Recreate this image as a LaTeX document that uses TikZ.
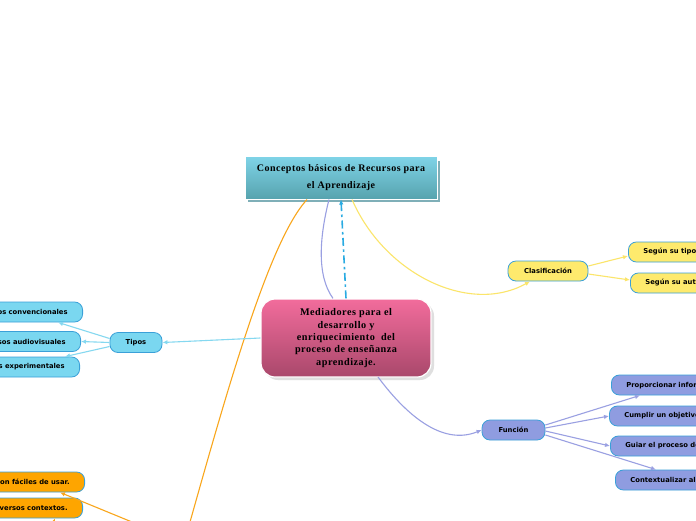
\documentclass[tikz,border=0pt]{standalone}
\usepackage{fontspec}
\setmainfont{Liberation Serif}
\newfontfamily\boxfont{DejaVu Sans}
\newfontfamily\titlefont[LetterSpace=5]{Liberation Serif}
\usetikzlibrary{arrows.meta,shadings}
\definecolor{nblue}{HTML}{7AD7F0}
\definecolor{nborder}{HTML}{3AA0D8}
\definecolor{nyellow}{HTML}{FEEA6D}
\definecolor{nlav}{HTML}{8F9CE0}
\definecolor{norange}{HTML}{FEA500}
\definecolor{lblue}{HTML}{85D8F0}
\definecolor{lyellow}{HTML}{FBE56A}
\definecolor{llav}{HTML}{9AA0E2}
\definecolor{lorange}{HTML}{F9A61C}
\definecolor{ldash}{HTML}{2AABE2}
\definecolor{tealtop}{HTML}{80D4E8}
\definecolor{tealbot}{HTML}{56A3AE}
\definecolor{tealshadow}{HTML}{7FAFB8}
\definecolor{pinktop}{HTML}{F26C9C}
\definecolor{pinkbot}{HTML}{A9486B}
\tikzset{
  pill/.style={draw=nborder, line width=0.8pt, rounded corners=8pt, minimum height=20pt,
    inner xsep=15pt, inner ysep=0pt, font=\boxfont\bfseries\fontsize{6.8}{8}\selectfont, text=black},
  bluepill/.style={pill, fill=nblue},
  yelpill/.style={pill, fill=nyellow},
  lavpill/.style={pill, fill=nlav},
  orpill/.style={pill, fill=norange},
  arr/.style={-{Latex[length=5pt,width=4.5pt]}, line width=1.1pt},
  topbox/.style={draw=white, line width=1pt, top color=tealtop, bottom color=tealbot,
    minimum width=192pt, minimum height=43pt, align=center,
    font=\titlefont\bfseries\fontsize{10}{16.5}\selectfont},
  centerbox/.style={draw=white, line width=1.2pt, rounded corners=14pt, top color=pinktop,
    bottom color=pinkbot, minimum width=170pt, minimum height=78pt, align=center,
    font=\titlefont\bfseries\fontsize{10.2}{12.4}\selectfont}
}
\begin{document}
\begin{tikzpicture}[x=1pt,y=-1pt]
\useasboundingbox (0,0) rectangle (696,520);
\clip (0,0) rectangle (696,520);
\fill[white] (0,0) rectangle (696,520);
% shadows
\fill[tealshadow] (248,161) rectangle (440,202);
\fill[gray!25, rounded corners=14pt] (264,302) rectangle (434,380);
% main nodes
\node[topbox] (top) at (341,177.5) {Conceptos básicos de Recursos para\\el Aprendizaje};
\node[centerbox] (center) at (346,338) {Mediadores para el\\desarrollo y\\enriquecimiento~ del\\proceso de enseñanza\\aprendizaje.};
% left (Tipos)
\node[bluepill, minimum width=52pt] (tipos) at (136,342.5) {Tipos};
\node[bluepill, anchor=east] (conv) at (83,312) {Recursos convencionales};
\node[bluepill, anchor=east] (audio) at (81,341.5) {Recursos audiovisuales};
\node[bluepill, anchor=east] (exper) at (80,367) {Recursos experimentales};
% Clasificacion
\node[yelpill, minimum width=80pt] (clasif) at (548,271) {Clasificación};
\node[yelpill, anchor=west] (stipo) at (628,252) {Según su tipo};
\node[yelpill, anchor=west] (sautor) at (630,283) {Según su autor};
% Funcion
\node[lavpill, minimum width=63pt] (func) at (513.5,430) {Función};
\node[lavpill, anchor=west] (prop) at (611,385) {Proporcionar información};
\node[lavpill, anchor=west] (cumplir) at (609,416) {Cumplir un objetivo};
\node[lavpill, anchor=west] (guiar) at (610,446) {Guiar el proceso de aprendizaje};
\node[lavpill, anchor=west] (context) at (615,480) {Contextualizar al estudiante};
% orange
\node[orpill, anchor=east] (facil) at (85,482) {Son fáciles de usar.};
\node[orpill, anchor=east] (divers) at (83,508) {Se usan en diversos contextos.};
\coordinate (hidA) at (190,522);
\coordinate (hidB) at (132,522);
\coordinate (hidC) at (46,540);
% connectors
\draw[arr, ldash, line width=1.6pt, dash pattern=on 8pt off 3.5pt on 2.5pt off 3.5pt] (center.north) -- (top.south);
\draw[llav, line width=1.1pt] ([xshift=-12pt]top.south) .. controls (320,235) and (316,275) .. ([xshift=-13pt]center.north);
\draw[arr, lyellow] ([xshift=11pt]top.south) .. controls (385,275) and (470,315) .. ([xshift=-18pt]clasif.south);
\draw[lorange, line width=1.1pt] ([xshift=-34pt]top.south) .. controls (270,240) and (230,380) .. (hidA);
\draw[arr, lblue] (center.west) -- (tipos.east);
\draw[arr, lblue] ([yshift=4pt]tipos.west) -- ([xshift=-25pt]conv.south east);
\draw[arr, lblue] (tipos.west) -- (audio.east);
\draw[arr, lblue] ([yshift=-4pt]tipos.west) -- ([xshift=-15pt]exper.north east);
\draw[arr, lyellow] ([yshift=5pt]clasif.east) -- ([yshift=-4pt]stipo.west);
\draw[arr, lyellow] ([yshift=-3pt]clasif.east) -- ([yshift=3pt]sautor.west);
\draw[arr, llav] (378,377) .. controls (410,420) and (445,445) .. (func.west);
\draw[arr, llav] ([yshift=5pt]func.east) -- ([xshift=29pt]prop.south west);
\draw[arr, llav] ([yshift=2pt]func.east) -- (cumplir.west);
\draw[arr, llav] ([yshift=-1pt]func.east) -- (guiar.west);
\draw[arr, llav] ([yshift=-5pt]func.east) -- ([xshift=41pt]context.north west);
\draw[arr, lorange] (hidB) -- ([xshift=-25pt]facil.south east);
\draw[arr, lorange] (hidC) -- ([xshift=-28pt]divers.south east);
\end{tikzpicture}
\end{document}
